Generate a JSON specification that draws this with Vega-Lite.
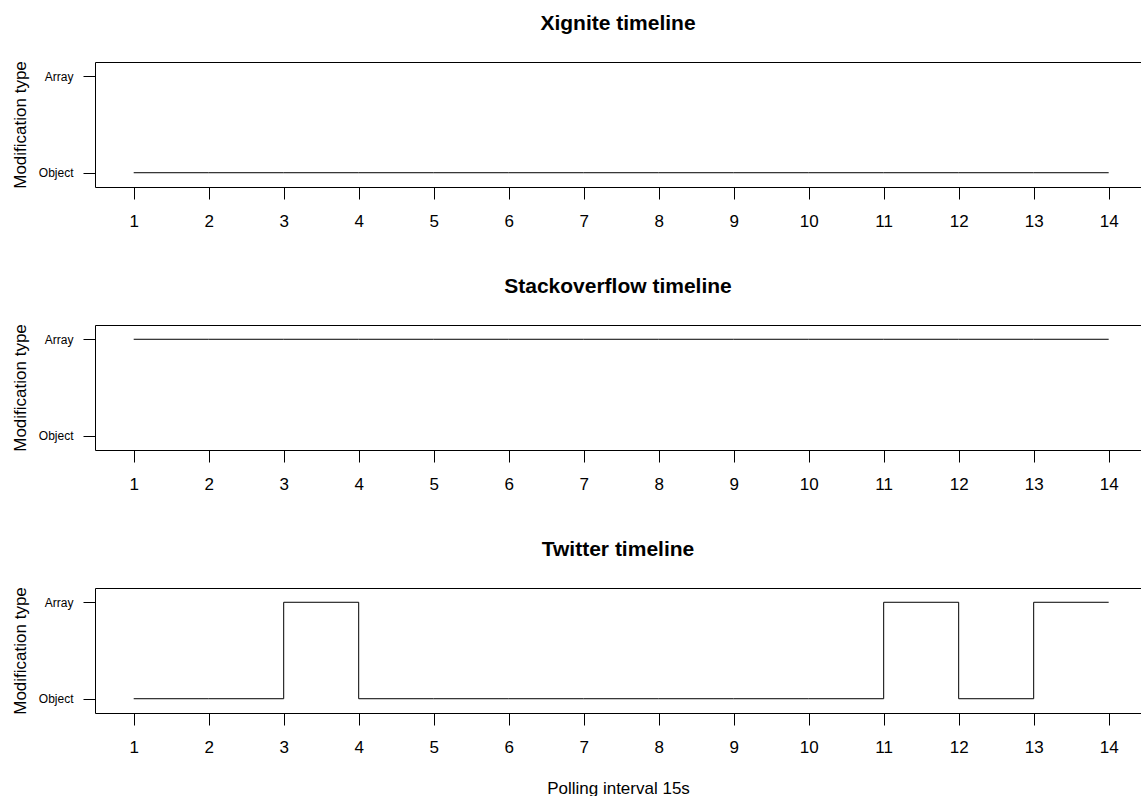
{
  "$schema": "https://vega.github.io/schema/vega-lite/v6.json",
  "padding": {"left": 11, "top": 12, "right": 0, "bottom": 0},
  "background": "white",
  "bounds": "flush",
  "spacing": 138,
  "config": {
    "view": {"stroke": null},
    "font": "Liberation Sans",
    "title": {"font": "Liberation Sans", "fontSize": 21, "fontWeight": "bold", "color": "black", "anchor": "middle", "baseline": "alphabetic", "offset": 27.2},
    "axis": {"domainColor": "black", "tickColor": "black", "labelColor": "black", "titleColor": "black", "grid": false, "labelFont": "Liberation Sans", "titleFont": "Liberation Sans", "titleFontWeight": "normal", "domainWidth": 1, "tickWidth": 1}
  },
  "data": {"values": [
    {"api": "Xignite", "interval": 1, "type": "Object"},
    {"api": "Xignite", "interval": 2, "type": "Object"},
    {"api": "Xignite", "interval": 3, "type": "Object"},
    {"api": "Xignite", "interval": 4, "type": "Object"},
    {"api": "Xignite", "interval": 5, "type": "Object"},
    {"api": "Xignite", "interval": 6, "type": "Object"},
    {"api": "Xignite", "interval": 7, "type": "Object"},
    {"api": "Xignite", "interval": 8, "type": "Object"},
    {"api": "Xignite", "interval": 9, "type": "Object"},
    {"api": "Xignite", "interval": 10, "type": "Object"},
    {"api": "Xignite", "interval": 11, "type": "Object"},
    {"api": "Xignite", "interval": 12, "type": "Object"},
    {"api": "Xignite", "interval": 13, "type": "Object"},
    {"api": "Xignite", "interval": 14, "type": "Object"},
    {"api": "Stackoverflow", "interval": 1, "type": "Array"},
    {"api": "Stackoverflow", "interval": 2, "type": "Array"},
    {"api": "Stackoverflow", "interval": 3, "type": "Array"},
    {"api": "Stackoverflow", "interval": 4, "type": "Array"},
    {"api": "Stackoverflow", "interval": 5, "type": "Array"},
    {"api": "Stackoverflow", "interval": 6, "type": "Array"},
    {"api": "Stackoverflow", "interval": 7, "type": "Array"},
    {"api": "Stackoverflow", "interval": 8, "type": "Array"},
    {"api": "Stackoverflow", "interval": 9, "type": "Array"},
    {"api": "Stackoverflow", "interval": 10, "type": "Array"},
    {"api": "Stackoverflow", "interval": 11, "type": "Array"},
    {"api": "Stackoverflow", "interval": 12, "type": "Array"},
    {"api": "Stackoverflow", "interval": 13, "type": "Array"},
    {"api": "Stackoverflow", "interval": 14, "type": "Array"},
    {"api": "Twitter", "interval": 1, "type": "Object"},
    {"api": "Twitter", "interval": 2, "type": "Object"},
    {"api": "Twitter", "interval": 3, "type": "Array"},
    {"api": "Twitter", "interval": 4, "type": "Object"},
    {"api": "Twitter", "interval": 5, "type": "Object"},
    {"api": "Twitter", "interval": 6, "type": "Object"},
    {"api": "Twitter", "interval": 7, "type": "Object"},
    {"api": "Twitter", "interval": 8, "type": "Object"},
    {"api": "Twitter", "interval": 9, "type": "Object"},
    {"api": "Twitter", "interval": 10, "type": "Object"},
    {"api": "Twitter", "interval": 11, "type": "Array"},
    {"api": "Twitter", "interval": 12, "type": "Object"},
    {"api": "Twitter", "interval": 13, "type": "Array"},
    {"api": "Twitter", "interval": 14, "type": "Array"}
  ]},
  "vconcat": [
    {
      "title": "Xignite timeline",
      "width": 1046, "height": 125,
      "transform": [{"filter": "datum.api == 'Xignite'"}],
      "layer": [
        {
          "mark": {"type": "line", "interpolate": "step-after", "color": "black", "strokeWidth": 1, "orient": "vertical"},
          "encoding": {
            "x": {"field": "interval", "type": "quantitative", "scale": {"domain": [0.484, 14.431], "nice": false, "zero": false},
                  "axis": {"orient": "bottom", "values": [1,2,3,4,5,6,7,8,9,10,11,12,13,14], "format": "d", "tickSize": 12, "labelFontSize": 17, "labelPadding": 14, "labelFlush": false, "labelOverlap": false, "title": null}},
            "y": {"field": "type", "type": "nominal", "scale": {"type": "point", "domain": ["Array", "Object"], "padding": 0.148},
                  "axis": {"tickSize": 12, "labelFontSize": 12, "labelPadding": 10, "title": "Modification type", "titleFontSize": 17, "titlePadding": 9}},
            "order": {"field": "interval", "type": "quantitative"}
          }
        },
        {
          "mark": {"type": "line", "opacity": 0},
          "encoding": {
            "x": {"field": "interval", "type": "quantitative", "axis": {"orient": "top", "labels": false, "ticks": false, "domain": true, "title": null}}
          }
        }
      ],
      "resolve": {"axis": {"x": "independent"}}
    },
    {
      "title": "Stackoverflow timeline",
      "width": 1046, "height": 125,
      "transform": [{"filter": "datum.api == 'Stackoverflow'"}],
      "layer": [
        {
          "mark": {"type": "line", "interpolate": "step-after", "color": "black", "strokeWidth": 1, "orient": "vertical"},
          "encoding": {
            "x": {"field": "interval", "type": "quantitative", "scale": {"domain": [0.484, 14.431], "nice": false, "zero": false},
                  "axis": {"orient": "bottom", "values": [1,2,3,4,5,6,7,8,9,10,11,12,13,14], "format": "d", "tickSize": 12, "labelFontSize": 17, "labelPadding": 14, "labelFlush": false, "labelOverlap": false, "title": null}},
            "y": {"field": "type", "type": "nominal", "scale": {"type": "point", "domain": ["Array", "Object"], "padding": 0.148},
                  "axis": {"tickSize": 12, "labelFontSize": 12, "labelPadding": 10, "title": "Modification type", "titleFontSize": 17, "titlePadding": 9}},
            "order": {"field": "interval", "type": "quantitative"}
          }
        },
        {
          "mark": {"type": "line", "opacity": 0},
          "encoding": {
            "x": {"field": "interval", "type": "quantitative", "axis": {"orient": "top", "labels": false, "ticks": false, "domain": true, "title": null}}
          }
        }
      ],
      "resolve": {"axis": {"x": "independent"}}
    },
    {
      "title": "Twitter timeline",
      "width": 1046, "height": 125,
      "transform": [{"filter": "datum.api == 'Twitter'"}],
      "layer": [
        {
          "mark": {"type": "line", "interpolate": "step-after", "color": "black", "strokeWidth": 1, "orient": "vertical"},
          "encoding": {
            "x": {"field": "interval", "type": "quantitative", "scale": {"domain": [0.484, 14.431], "nice": false, "zero": false},
                  "axis": {"orient": "bottom", "values": [1,2,3,4,5,6,7,8,9,10,11,12,13,14], "format": "d", "tickSize": 12, "labelFontSize": 17, "labelPadding": 14, "labelFlush": false, "labelOverlap": false, "title": "Polling interval 15s", "titleFontSize": 17, "titlePadding": 25}},
            "y": {"field": "type", "type": "nominal", "scale": {"type": "point", "domain": ["Array", "Object"], "padding": 0.148},
                  "axis": {"tickSize": 12, "labelFontSize": 12, "labelPadding": 10, "title": "Modification type", "titleFontSize": 17, "titlePadding": 9}},
            "order": {"field": "interval", "type": "quantitative"}
          }
        },
        {
          "mark": {"type": "line", "opacity": 0},
          "encoding": {
            "x": {"field": "interval", "type": "quantitative", "axis": {"orient": "top", "labels": false, "ticks": false, "domain": true, "title": null}}
          }
        }
      ],
      "resolve": {"axis": {"x": "independent"}}
    }
  ]
}
